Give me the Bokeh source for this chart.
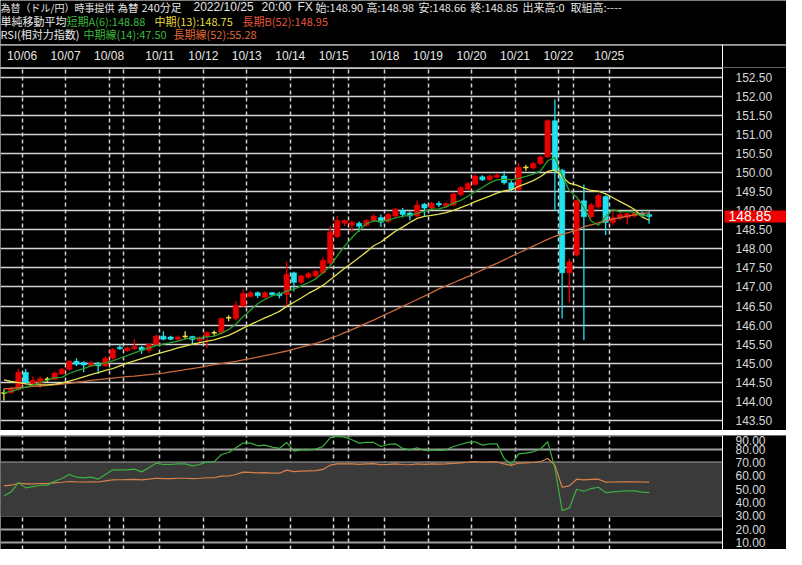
from bokeh.plotting import figure
from bokeh.models import (Range1d, FixedTicker, PrintfTickFormatter, Label, Span,
                          BoxAnnotation, ColumnDataSource)
from bokeh.layouts import column
from bokeh.embed import file_html
from bokeh.resources import INLINE
from bokeh.core.properties import value

# ---------------- data (240-minute USD/JPY bars, index 0..89) ----------------
opens = [144.22,144.23,144.32,144.76,144.45,144.47,144.58,144.58,144.72,144.84,
         145.05,145.02,144.93,145.00,144.93,145.13,145.42,145.33,145.38,145.42,
         145.34,145.49,145.71,145.69,145.63,145.70,145.70,145.60,145.70,145.80,
         145.80,146.19,146.17,146.50,146.75,146.85,146.73,146.85,146.83,146.80,
         147.37,147.12,147.25,147.29,147.37,147.62,148.32,148.67,148.62,148.67,
         148.61,148.74,148.82,148.72,148.86,149.00,148.94,148.86,149.17,149.07,
         149.19,149.11,149.15,149.42,149.56,149.69,149.89,149.81,149.88,149.91,
         149.73,149.56,150.13,150.12,150.24,150.41,151.36,150.06,147.37,147.84,
         149.26,148.84,149.10,149.37,148.69,148.80,148.82,148.86,148.94,148.90]
highs = [144.32,144.38,144.85,144.85,144.65,144.65,144.64,144.78,144.88,145.08,
         145.13,145.05,145.05,145.03,145.18,145.40,145.50,145.43,145.63,145.45,
         145.52,145.75,145.84,145.72,145.73,145.84,145.72,145.70,145.84,145.86,
         146.20,146.26,146.63,146.93,146.90,146.88,146.88,146.87,146.87,147.66,
         147.40,147.32,147.40,147.45,147.78,148.60,148.86,148.77,148.74,148.72,
         148.78,148.90,148.90,148.94,149.08,149.07,148.98,149.27,149.20,149.23,
         149.25,149.22,149.48,149.65,149.75,149.95,149.93,149.95,149.98,150.04,
         149.80,150.25,150.20,150.28,150.45,151.40,151.92,150.10,147.74,149.30,
         149.69,149.20,149.45,149.40,149.00,148.98,148.95,148.98,148.98,148.98]
lows = [144.02,144.20,144.28,144.45,144.38,144.35,144.50,144.55,144.70,144.80,
        144.93,144.76,144.90,144.72,144.90,145.10,145.35,145.30,145.34,145.25,
        145.26,145.46,145.60,145.60,145.58,145.63,145.50,145.50,145.40,145.72,
        145.75,146.10,146.12,146.45,146.72,146.72,146.70,146.75,146.70,146.50,
        146.88,147.08,147.22,147.25,147.33,147.58,148.28,148.60,148.45,148.45,
        148.58,148.70,148.57,148.68,148.82,148.82,148.74,148.82,148.86,149.03,
        149.10,149.08,149.12,149.38,149.53,149.66,149.78,149.78,149.85,149.69,
        149.50,149.52,150.05,150.08,150.20,150.38,149.00,146.17,146.59,147.80,
        145.60,148.80,149.05,148.36,148.62,148.75,148.64,148.82,148.85,148.66]
closes = [144.22,144.35,144.76,144.48,144.55,144.60,144.58,144.74,144.84,145.05,
          144.97,144.95,145.00,144.93,145.13,145.36,145.38,145.40,145.44,145.34,
          145.50,145.71,145.63,145.63,145.69,145.70,145.62,145.67,145.80,145.80,
          146.17,146.19,146.52,146.83,146.85,146.77,146.85,146.79,146.77,147.33,
          147.12,147.29,147.35,147.41,147.70,148.45,148.74,148.74,148.70,148.59,
          148.74,148.86,148.70,148.90,149.04,148.90,148.86,149.15,149.07,149.19,
          149.15,149.19,149.44,149.60,149.71,149.91,149.81,149.91,149.93,149.73,
          149.56,150.14,150.13,150.24,150.41,151.36,150.06,147.37,147.66,149.27,
          148.84,149.15,149.40,148.69,148.82,148.90,148.92,148.94,148.88,148.85]
sma6 = [144.22,144.26,144.32,144.37,144.43,144.49,144.55,144.62,144.63,144.73,
        144.80,144.86,144.93,144.96,145.01,145.06,145.13,145.20,145.27,145.34,
        145.40,145.46,145.50,145.54,145.58,145.64,145.66,145.66,145.69,145.71,
        145.79,145.88,146.03,146.22,146.39,146.56,146.67,146.77,146.81,146.89,
        146.94,147.03,147.11,147.21,147.37,147.55,147.82,148.07,148.29,148.49,
        148.66,148.73,148.72,148.75,148.81,148.86,148.88,148.93,148.99,149.04,
        149.05,149.10,149.20,149.27,149.38,149.50,149.61,149.73,149.81,149.83,
        149.81,149.85,149.90,149.96,150.04,150.31,150.39,149.93,149.52,149.36,
        149.09,148.73,148.62,148.84,149.03,148.97,148.98,148.95,148.86,148.89]
sma13 = [144.56,144.52,144.49,144.46,144.44,144.43,144.43,144.45,144.48,144.53,
         144.58,144.64,144.70,144.75,144.81,144.86,144.93,145.00,145.06,145.12,
         145.18,145.24,145.29,145.34,145.40,145.45,145.50,145.54,145.58,145.61,
         145.67,145.73,145.82,145.92,146.01,146.10,146.19,146.27,146.36,146.49,
         146.60,146.71,146.83,146.93,147.04,147.19,147.34,147.49,147.63,147.77,
         147.92,148.08,148.18,148.32,148.46,148.57,148.69,148.80,148.85,148.88,
         148.91,148.95,149.01,149.08,149.15,149.24,149.31,149.38,149.46,149.52,
         149.55,149.64,149.71,149.79,149.89,150.03,150.07,149.89,149.72,149.67,
         149.59,149.53,149.51,149.44,149.34,149.24,149.14,149.03,148.84,148.75]
sma52 = [144.33,144.34,144.36,144.37,144.39,144.40,144.42,144.43,144.45,144.47,
         144.50,144.52,144.55,144.57,144.59,144.61,144.63,144.65,144.66,144.68,
         144.70,144.72,144.74,144.77,144.80,144.83,144.86,144.89,144.93,144.96,
         144.99,145.02,145.05,145.09,145.12,145.16,145.20,145.24,145.28,145.32,
         145.37,145.42,145.47,145.52,145.58,145.65,145.72,145.80,145.88,145.96,
         146.05,146.13,146.22,146.31,146.40,146.49,146.58,146.67,146.76,146.85,
         146.95,147.03,147.11,147.19,147.27,147.36,147.45,147.54,147.62,147.71,
         147.80,147.89,147.98,148.07,148.16,148.25,148.33,148.38,148.43,148.49,
         148.58,148.63,148.68,148.73,148.78,148.82,148.86,148.89,148.92,148.95]
rsi14 = [45.0,48.0,55.0,51.0,52.0,53.0,53.0,56.0,58.0,61.0,
         59.0,58.5,59.0,57.5,61.0,64.5,64.5,64.5,65.0,63.0,
         66.0,69.5,68.5,68.5,69.0,69.0,67.5,68.5,70.5,70.5,
         76.0,77.5,81.0,84.5,84.5,82.5,83.0,81.5,80.5,85.0,
         78.5,79.5,79.5,80.0,82.0,88.5,89.5,89.0,87.0,84.5,
         85.0,85.0,82.0,83.5,84.0,80.5,79.5,81.0,79.0,79.5,
         79.0,79.5,82.0,83.5,85.0,85.5,83.0,84.0,84.0,73.0,
         68.5,76.5,77.0,78.0,80.0,85.5,66.0,34.0,36.0,50.0,
         48.5,50.5,51.5,47.5,48.0,48.5,48.7,48.8,47.8,47.5]
rsi52 = [52.5,53.0,54.5,54.0,54.0,54.3,54.4,54.8,55.2,55.8,
         55.5,55.4,55.6,55.4,56.2,57.0,57.1,57.2,57.3,57.0,
         57.5,58.2,58.0,58.0,58.2,58.2,58.0,58.2,58.6,58.6,
         59.8,59.9,61.0,62.8,62.6,62.2,62.4,62.1,62.0,64.3,
         63.2,63.5,63.7,63.9,64.8,68.0,69.0,69.0,68.9,68.6,
         68.9,69.2,68.3,68.6,69.0,68.5,68.3,68.9,68.6,68.9,
         68.8,68.9,69.3,69.7,70.2,70.6,70.2,70.4,70.4,69.0,
         67.8,69.6,69.7,70.0,70.6,73.0,68.0,51.5,52.5,57.5,
         57.0,57.3,57.5,55.3,55.4,55.5,55.5,55.6,55.4,55.28]

day_start_bars = [3, 9, 15, 17, 22, 28, 34, 40, 46, 48, 53, 59, 65, 71, 77, 79, 84]
label_bars = [3, 9, 15, 22, 28, 34, 40, 46, 53, 59, 65, 71, 77, 84]
label_texts = ["10/06", "10/07", "10/08", "10/11", "10/12", "10/13", "10/14",
               "10/15", "10/18", "10/19", "10/20", "10/21", "10/22", "10/25"]
price_ticks = [143.5, 144.0, 144.5, 145.0, 145.5, 146.0, 146.5, 147.0, 147.5,
               148.0, 148.5, 149.0, 149.5, 150.0, 150.5, 151.0, 151.5, 152.0, 152.5]
rsi_ticks = [10, 20, 30, 40, 50, 60, 70, 80, 90]
last_price = 148.85

JP = "Noto Sans CJK JP"
LAT = "Liberation Sans"
# header line 1: (text, x, font, size)
header1 = [("為替（ドル/円）時事提供", 0, JP, "10px"), ("為替", 117, JP, "10.5px"),
           ("240分足", 141, JP, "11px"), ("2022/10/25", 193, LAT, "12px"),
           ("20:00", 261, LAT, "12px"), ("FX", 297, LAT, "12px"),
           ("始:148.90", 315, JP, "11px"), ("高:148.98", 366, JP, "11px"),
           ("安:148.66", 418, JP, "11px"), ("終:148.85", 470, JP, "11px"),
           ("出来高:0", 522, JP, "11px"), ("取組高:----", 570, JP, "11px")]
header2 = [("単純移動平均", "#e8e8e8", 0), ("短期A(6):148.88", "#3cb83c", 66),
           ("中期(13):148.75", "#e6dc3a", 154), ("長期B(52):148.95", "#e8553a", 242)]
header3 = [("RSI(相対力指数)", "#e8e8e8", 0), ("中期線(14):47.50", "#3cb83c", 83),
           ("長期線(52):55.28", "#e0683a", 173)]

# ---------------- layout constants ----------------
W = 786
FW = 722                      # width of the plotting area left of the price scale
X0, X1 = -0.472, 99.12        # bar-index range of the plotting area
XE = X0 + (X1 - X0) * W / FW  # range end including the scale column
UP = "#e80000"
DOWN = "#22e2ef"
DOJI = "#f0e040"
BG = "black"

idx = list(range(len(closes)))


def base_fig(height, **kw):
    p = figure(width=W, height=height, output_backend="svg", toolbar_location=None,
               background_fill_color=BG, border_fill_color=BG, outline_line_color=None,
               min_border=0, **kw)
    try:
        p.frame_align = False
    except Exception:
        pass
    return p


def style_scale(ax):
    ax.formatter = PrintfTickFormatter(format="%.2f")
    ax.axis_line_color = "white"
    ax.axis_line_width = 1
    ax.major_tick_line_color = None
    ax.minor_tick_line_color = None
    ax.major_label_standoff = 7
    ax.major_label_text_color = "#d8d8d8"
    ax.major_label_text_font = LAT
    ax.major_label_text_font_size = "12px"
    ax.fixed_location = X1


# ---------------- header ----------------
hdr = base_fig(44, x_range=Range1d(0, W), y_range=Range1d(0, 44),
               x_axis_location=None, y_axis_location=None)
hdr.xgrid.visible = False
hdr.ygrid.visible = False
for t, xx, fnt, fs in header1:
    hdr.add_layout(Label(x=xx, y=37.5, text=t, text_color="#e4e4e4", text_font=fnt,
                         text_font_size=fs, text_baseline="middle"))
for t, c, xx in header2:
    hdr.add_layout(Label(x=xx, y=24, text=t, text_color=c, text_font=JP,
                         text_font_size="11px", text_baseline="middle"))
for t, c, xx in header3:
    hdr.add_layout(Label(x=xx, y=10.5, text=t, text_color=c, text_font=JP,
                         text_font_size="11px", text_baseline="middle"))

# ---------------- date strip ----------------
strip = base_fig(23, x_range=Range1d(X0, XE), y_range=Range1d(0, 23),
                 x_axis_location=None, y_axis_location=None)
strip.xgrid.visible = False
strip.ygrid.visible = False
lab_src = ColumnDataSource(dict(x=[b - 0.5 for b in label_bars], y=[11.5] * len(label_bars),
                                t=label_texts))
strip.text(x="x", y="y", text="t", source=lab_src, text_align="center", text_baseline="middle",
           text_color="#e6e6e6", text_font=value(LAT), text_font_size="12px")
strip.add_layout(Span(location=22.5, dimension="width", line_color="white", line_width=1))
strip.add_layout(Span(location=X1, dimension="height", line_color="white", line_width=1))

# ---------------- price panel ----------------
xr = Range1d(X0, XE)
PTOP, PBOT = 152.756, 143.235
price = base_fig(363, x_range=xr, y_range=Range1d(PBOT, PTOP),
                 x_axis_location=None, y_axis_location="right")
price.ygrid.ticker = FixedTicker(ticks=price_ticks)
price.yaxis.ticker = FixedTicker(ticks=price_ticks)
price.ygrid.grid_line_color = "#d4d4d4"
price.ygrid.grid_line_width = 1.5
price.xgrid.ticker = FixedTicker(ticks=[b - 0.5 for b in day_start_bars])
price.xgrid.grid_line_color = "#cfcfcf"
price.xgrid.grid_line_width = 1.5
price.xgrid.grid_line_dash = "4 3"
style_scale(price.yaxis[0])
# black scale column (hides grid lines right of the plotting area)
price.add_layout(BoxAnnotation(left=X1, fill_color=BG, fill_alpha=1, line_color=None,
                               level="glyph"))
# white top border of the plotting area
price.add_layout(BoxAnnotation(right=X1, bottom=PTOP - 0.036, fill_color="white",
                               fill_alpha=1, line_color=None, level="glyph"))

up_i = [i for i in idx if closes[i] - opens[i] > 0.005]
dn_i = [i for i in idx if opens[i] - closes[i] > 0.005]
dj_i = [i for i in idx if abs(closes[i] - opens[i]) <= 0.005]


def sub(ids):
    return ColumnDataSource(dict(
        x=ids, o=[opens[i] for i in ids], c=[closes[i] for i in ids],
        h=[highs[i] for i in ids], l=[lows[i] for i in ids],
        top=[max(opens[i], closes[i]) for i in ids],
        bot=[min(opens[i], closes[i]) for i in ids],
        xl=[i - 0.36 for i in ids], xr=[i + 0.36 for i in ids]))


for ids, col in ((up_i, UP), (dn_i, DOWN)):
    s = sub(ids)
    price.segment(x0="x", y0="l", x1="x", y1="h", source=s, line_color=col, line_width=1.3)
    price.vbar(x="x", width=0.74, top="top", bottom="bot", source=s,
               fill_color=col, line_color=col, line_width=0.5)
s = sub(dj_i)
price.segment(x0="x", y0="l", x1="x", y1="h", source=s, line_color=DOJI, line_width=1.3)
price.segment(x0="xl", y0="o", x1="xr", y1="c", source=s, line_color=DOJI, line_width=1.5)

price.line(idx, sma52, line_color="#c8693c", line_width=1.3)
price.line(idx, sma13, line_color="#e4e050", line_width=1.3)
price.line(idx, sma6, line_color="#2aa02a", line_width=1.3)

lab_kw = dict(x=X1, y=last_price, text=f"{last_price:.2f}", x_offset=2,
              text_baseline="middle", text_color="white", text_font=LAT,
              text_font_size="14px", background_fill_color="#ee0000",
              background_fill_alpha=1)
try:
    marker = Label(padding=dict(left=4, right=20, top=1, bottom=1), **lab_kw)
except Exception:
    marker = Label(padding=3, **lab_kw)
price.add_layout(marker)

# ---------------- separator ----------------
sep = figure(width=W, height=5, output_backend="svg", toolbar_location=None,
             background_fill_color="#c4c4c4", border_fill_color="#c4c4c4",
             outline_line_color=None, min_border=0, x_axis_location=None,
             y_axis_location=None, x_range=Range1d(0, 1), y_range=Range1d(0, 1))
sep.xgrid.visible = False
sep.ygrid.visible = False
try:
    sep.frame_align = False
except Exception:
    pass

# ---------------- RSI panel ----------------
rsi = base_fig(114, x_range=xr, y_range=Range1d(4.9, 90.2),
               x_axis_location=None, y_axis_location="right")
rsi.add_layout(BoxAnnotation(bottom=30, top=70, right=X1, fill_color="#3a3a3a", fill_alpha=1,
                             line_color=None, level="underlay"))
rsi.ygrid.ticker = FixedTicker(ticks=rsi_ticks)
rsi.yaxis.ticker = FixedTicker(ticks=rsi_ticks)
rsi.ygrid.grid_line_color = "#a0a0a0"
rsi.ygrid.grid_line_width = 2
rsi.xgrid.ticker = FixedTicker(ticks=[b - 0.5 for b in day_start_bars])
rsi.xgrid.grid_line_color = "#cfcfcf"
rsi.xgrid.grid_line_width = 1.5
rsi.xgrid.grid_line_dash = "4 3"
style_scale(rsi.yaxis[0])
rsi.add_layout(BoxAnnotation(left=X1, fill_color=BG, fill_alpha=1, line_color=None,
                             level="glyph"))
rsi.line(idx, rsi52, line_color="#d8804a", line_width=1.2)
rsi.line(idx, rsi14, line_color="#3cb040", line_width=1.2)

layout = column(hdr, strip, price, sep, rsi, spacing=0)
open("out.html", "w").write(file_html(layout, INLINE))
